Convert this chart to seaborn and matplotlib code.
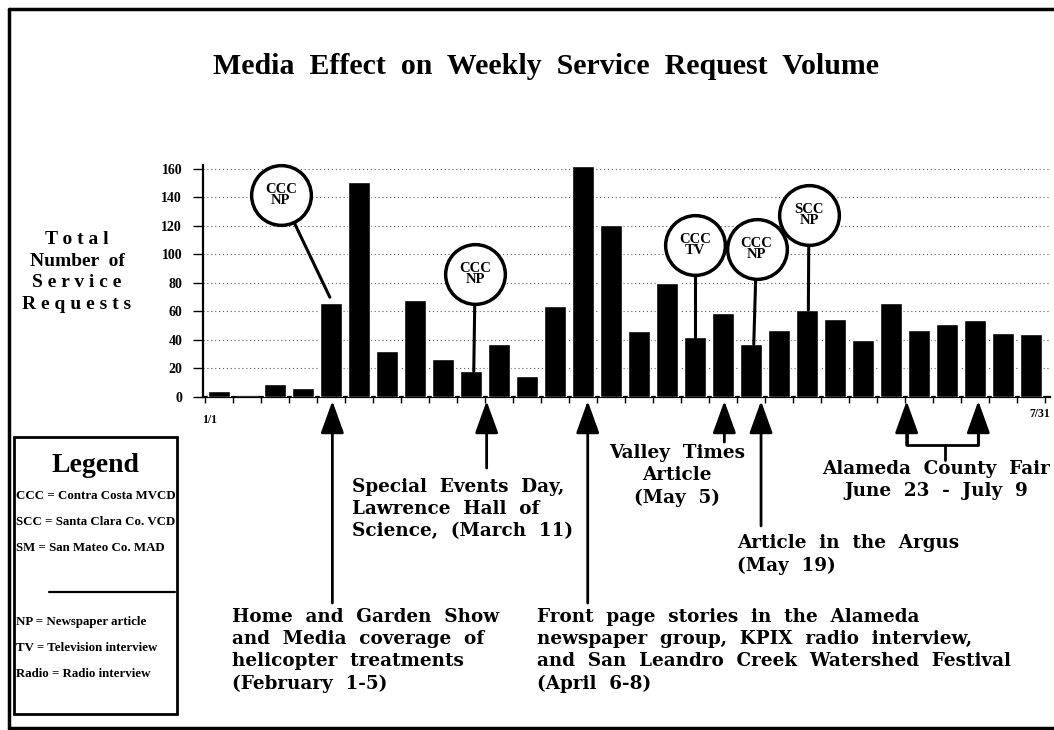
import numpy as np
import matplotlib
matplotlib.use("Agg")
import matplotlib.pyplot as plt
from matplotlib.lines import Line2D
from matplotlib.patches import Rectangle
import seaborn as sns

# data
weeks = ["1/1", "1/8", "1/15", "1/22", "1/29", "2/5", "2/12", "2/19", "2/26", "3/5",
         "3/12", "3/19", "3/26", "4/2", "4/9", "4/16", "4/23", "4/30", "5/7", "5/14",
         "5/21", "5/28", "6/4", "6/11", "6/18", "6/25", "7/2", "7/9", "7/16", "7/23"]
requests = [4, 0, 9, 6, 66, 151, 32, 68, 27, 18,
            37, 15, 64, 162, 121, 46, 80, 42, 59, 37,
            47, 61, 55, 40, 66, 47, 51, 54, 45, 44]
yticks = [0, 20, 40, 60, 80, 100, 120, 140, 160]

# callouts: (label, circle x, circle y, target x, target y)
callout_text = ["CCC\nNP", "CCC\nNP", "CCC\nTV", "CCC\nNP", "SCC\nNP"]
callout_cx = [2.21, 9.15, 17.0, 19.2, 21.07]
callout_cy = [142, 86, 107, 104, 128]
callout_tx = [3.96, 9.1, 17.0, 19.1, 21.05]
callout_ty = [70, 18, 42, 37, 61]

# event arrows (x in bar units, tail in axes fraction)
event_x = [4.05, 9.56, 13.17, 18.05, 19.36, 24.56, 27.12]
event_tail = [-0.887, -0.306, -0.887, -0.194, -0.555, -0.207, -0.207]

sns.set_style("white")
plt.rcParams["font.family"] = ["Liberation Serif", "DejaVu Serif"]
plt.rcParams["font.weight"] = "bold"
plt.rcParams["text.color"] = "black"
plt.rcParams["xtick.color"] = "black"
plt.rcParams["ytick.color"] = "black"
plt.rcParams["axes.edgecolor"] = "black"

W, H = 1054, 730
fig = plt.figure(figsize=(W / 100, H / 100), dpi=100)
ax = fig.add_axes([203 / W, 333 / H, 847 / W, 232.3 / H])

sns.barplot(x=weeks, y=requests, color="black", width=0.78, saturation=1, ax=ax, zorder=3)

ax.set_xlim(-0.57, 29.68)
ax.set_ylim(0, 163)
ax.set_yticks(yticks)
ax.set_yticklabels([str(v) for v in yticks], fontsize=10, fontweight="bold", color="black")
ax.set_xticks(np.arange(-0.5, 30, 1))
ax.set_xticklabels([])
ax.set_xlabel("")
ax.set_ylabel("")
ax.tick_params(axis="y", direction="out", length=7, width=1, pad=8, left=True)
ax.tick_params(axis="x", direction="out", length=4, width=1, bottom=True)
for v in yticks[1:]:
    ax.axhline(v, color="0.35", lw=0.8, ls=(0, (1, 2.5)), zorder=1)
for s in ["top", "right"]:
    ax.spines[s].set_visible(False)
ax.spines["left"].set_linewidth(1.6)
ax.spines["bottom"].set_linewidth(1.6)

ax.text(-0.62, -0.1, "1/1", transform=ax.get_xaxis_transform(), fontsize=8.5,
        fontweight="bold", ha="left", va="center")
ax.text(29.68, -0.075, "7/31", transform=ax.get_xaxis_transform(), fontsize=8.5,
        fontweight="bold", ha="right", va="center")

# callout circles
for t, cx, cy, tx, ty in zip(callout_text, callout_cx, callout_cy, callout_tx, callout_ty):
    ax.plot([cx, tx], [cy, ty], color="black", lw=2.2, zorder=5, clip_on=False)
    ax.plot([cx], [cy], marker="o", ms=43, mfc="white", mec="black", mew=2.5,
            zorder=6, clip_on=False)
    ax.text(cx, cy, t, ha="center", va="center", multialignment="center", fontsize=10.5,
            fontweight="bold", linespacing=0.8, zorder=7)

# event arrows
trans = ax.get_xaxis_transform()
for x, tail in zip(event_x, event_tail):
    ax.annotate("", xy=(x, -0.017), xytext=(x, tail), xycoords=trans, textcoords=trans,
                annotation_clip=False,
                arrowprops=dict(arrowstyle="-|>,head_length=1.0,head_width=0.36",
                                color="black", lw=2, shrinkA=0, shrinkB=0,
                                mutation_scale=20))
# county fair bracket
ax.plot([event_x[5], event_x[5], event_x[6], event_x[6]], [-0.12, -0.207, -0.207, -0.12],
        transform=trans, color="black", lw=2, clip_on=False)
ax.plot([25.93, 25.93], [-0.207, -0.271], transform=trans, color="black", lw=2, clip_on=False)

# text helpers in pixel coords
def ftext(x, y, s, **kw):
    fig.text(x / W, 1 - y / H, s, **kw)

afont = dict(fontsize=13.2, fontweight="bold", family=["DejaVu Serif"], va="top",
             linespacing=1.3, color="black")

ftext(546, 67, "Media  Effect  on  Weekly  Service  Request  Volume", fontsize=21.5,
      fontweight="bold", ha="center", va="center")
ftext(77, 272, "T o t a l\nNumber  of\nS e r v i c e\nR e q u e s t s", fontsize=14,
      fontweight="bold", ha="center", va="center", linespacing=1.35)

ftext(352, 478, "Special  Events  Day,\nLawrence  Hall  of\nScience,  (March  11)", ha="left", **afont)
ftext(232, 608, "Home  and  Garden  Show\nand  Media  coverage  of\nhelicopter  treatments\n(February  1-5)",
      ha="left", **afont)
ftext(537, 608, "Front  page  stories  in  the  Alameda\nnewspaper  group,  KPIX  radio  interview,\n"
      "and  San  Leandro  Creek  Watershed  Festival\n(April  6-8)", ha="left", **afont)
ftext(677, 444, "Valley  Times\nArticle\n(May  5)", ha="center", multialignment="center", **afont)
ftext(737, 534, "Article  in  the  Argus\n(May  19)", ha="left", **afont)
ftext(936, 460, "Alameda  County  Fair\nJune  23  -  July  9", ha="center", multialignment="center", **afont)

# legend box
fig.add_artist(Rectangle((14 / W, 1 - 714 / H), 163 / W, 277 / H, transform=fig.transFigure,
                         fill=False, lw=2, ec="black"))
ftext(95, 465, "Legend", fontsize=20, fontweight="bold", ha="center", va="center")
leg1 = ["CCC = Contra Costa MVCD", "SCC = Santa Clara Co. VCD", "SM = San Mateo Co. MAD"]
leg2 = ["NP = Newspaper article", "TV = Television interview", "Radio = Radio interview"]
for i, s in enumerate(leg1):
    ftext(16, 496 + 26 * i, s, fontsize=9.3, fontweight="bold", ha="left", va="center")
for i, s in enumerate(leg2):
    ftext(16, 622 + 26 * i, s, fontsize=9.3, fontweight="bold", ha="left", va="center")
fig.add_artist(Line2D([49 / W, 175 / W], [1 - 592 / H] * 2, transform=fig.transFigure,
                      color="black", lw=1.6))

# outer frame
for xs, ys in [([9, 9], [9, 728]), ([9, W + 5], [9, 9]), ([9, W + 5], [728, 728])]:
    fig.add_artist(Line2D([x / W for x in xs], [1 - y / H for y in ys],
                          transform=fig.transFigure, color="black", lw=2.5))

fig.savefig("out.png", dpi=100)
